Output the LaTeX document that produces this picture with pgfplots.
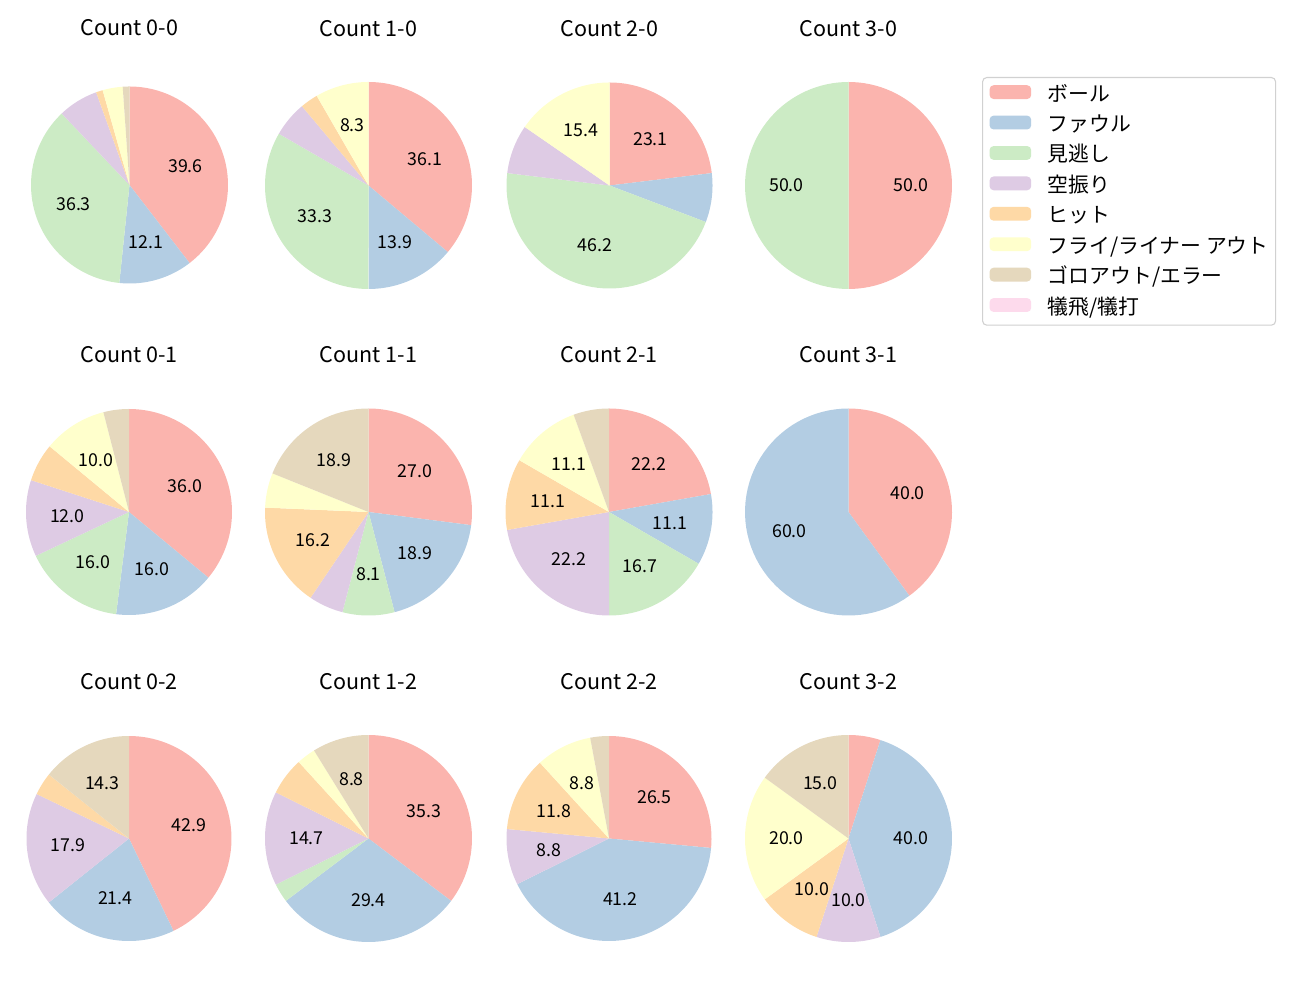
\documentclass[border=0pt]{standalone}
\usepackage{fontspec}
\setmainfont{Noto Sans CJK JP}
\usepackage{pgfplots}
\pgfplotsset{compat=1.18}
\definecolor{pc1}{HTML}{FBB4AE}
\definecolor{pc2}{HTML}{B3CDE3}
\definecolor{pc3}{HTML}{CCEBC5}
\definecolor{pc4}{HTML}{DECBE4}
\definecolor{pc5}{HTML}{FED9A6}
\definecolor{pc6}{HTML}{FFFFCC}
\definecolor{pc7}{HTML}{E5D8BD}
\definecolor{pc8}{HTML}{FDDAEC}
\newcommand\titlefont{\fontsize{15.5}{18}\selectfont}
\newcommand\labelfont{\fontsize{12.8}{15}\selectfont}
\newcommand\legendfont{\fontsize{15}{17}\selectfont}
\newcount\pieidx
% counts in legend order -> slices clockwise from 12 o'clock
\newcommand\buildpie[1]{%
  \gdef\pietotal{0}%
  \foreach \v in {#1}{\pgfmathsetmacro\tmp{\pietotal+\v}\xdef\pietotal{\tmp}}%
  \gdef\pieangle{90}%
  \gdef\piecmds{}%
  \global\pieidx=0
  \foreach \v in {#1}{%
    \global\advance\pieidx by 1
    \pgfmathsetmacro\pct{100*\v/\pietotal}%
    \pgfmathsetmacro\aend{\pieangle-360*\v/\pietotal}%
    \pgfmathsetmacro\amid{(\pieangle+\aend)/2}%
    \pgfmathsetmacro\lx{0.6*cos(\amid)}%
    \pgfmathsetmacro\ly{0.6*sin(\amid)}%
    \ifdim\v pt>0pt
      \xdef\piecmds{\unexpanded\expandafter{\piecmds}%
        \noexpand\addplot[draw=none, fill=pc\the\pieidx, domain=\aend:\pieangle, samples=60] ({cos(x)},{sin(x)}) -- (axis cs:0,0) -- cycle;}%
      \ifdim\pct pt>7.95pt
        \xdef\piecmds{\unexpanded\expandafter{\piecmds}%
          \noexpand\node[font=\noexpand\labelfont, inner sep=0pt] at (axis cs:\lx,\ly) {\noexpand\pgfmathprintnumber[assume math mode=true,fixed,fixed zerofill,precision=1]{\pct}};}%
      \fi
    \fi
    \xdef\pieangle{\aend}%
  }%
}
\pgfplotsset{pieaxis/.style={anchor=center, scale only axis, hide axis, clip=false,
  xmin=-1, xmax=1, ymin=-1, ymax=1}}
\newcommand\drawpie[5]{%
  \buildpie{#5}%
  \pgfmathsetmacro\pcx{#1*0.72}%
  \pgfmathsetmacro\pcy{(1000-#2)*0.72}%
  \pgfmathsetmacro\pw{2*#3*0.72}%
  \begin{axis}[pieaxis, at={(\pcx pt,\pcy pt)}, width=\pw pt, height=\pw pt]
  \piecmds
  \node[font=\titlefont, inner sep=0pt] at ([yshift=113pt]axis cs:0,0) {#4};
  \end{axis}}
\pgfplotsset{pielegend/.style={draw=none, fill=#1,
  legend image code/.code={\fill[##1] (0pt,-2.5pt) rectangle (30pt,7.5pt);}}}
\begin{document}
\begin{tikzpicture}
\useasboundingbox (0,0) rectangle (936pt,720pt);
\begin{axis}[at={(0,0)}, anchor=south west, scale only axis, width=936pt, height=720pt,
  xmin=0, xmax=1300, ymin=0, ymax=1000, hide axis,
  legend cell align=left,
  legend style={at={(0.7554,0.923)}, anchor=north west, draw=black!18, line width=0.8pt,
    rounded corners=3pt, fill=white, font=\legendfont, inner xsep=5pt, inner ysep=5.5pt,
    row sep=7.9pt,
    nodes={inner sep=0pt, text height=10.5pt, text depth=2.5pt},
    /tikz/every odd column/.append style={column sep=12pt},
    /tikz/every even column/.append style={column sep=9pt}}]
\addlegendimage{pielegend=pc1}\addlegendentry{ボール}
\addlegendimage{pielegend=pc2}\addlegendentry{ファウル}
\addlegendimage{pielegend=pc3}\addlegendentry{見逃し}
\addlegendimage{pielegend=pc4}\addlegendentry{空振り}
\addlegendimage{pielegend=pc5}\addlegendentry{ヒット}
\addlegendimage{pielegend=pc6}\addlegendentry{フライ/ライナー アウト\hspace{7pt}}
\addlegendimage{pielegend=pc7}\addlegendentry{ゴロアウト/エラー}
\addlegendimage{pielegend=pc8}\addlegendentry{犠飛/犠打}
\end{axis}
% order: ボール, ファウル, 見逃し, 空振り, ヒット, フライ/ライナー, ゴロ/エラー, 犠飛/犠打
\drawpie{129.5}{185}{98.5}{Count 0-0}{36,11,33,6,1,3,1,0}
\drawpie{368.5}{185.5}{103.5}{Count 1-0}{13,5,12,2,1,3,0,0}
\drawpie{609.5}{185.5}{103}{Count 2-0}{3,1,6,1,0,2,0,0}
\drawpie{848.5}{185.5}{103.5}{Count 3-0}{1,0,1,0,0,0,0,0}
\drawpie{129}{512}{103}{Count 0-1}{18,8,8,6,3,5,2,0}
\drawpie{368.5}{512}{103.5}{Count 1-1}{10,7,3,2,6,2,7,0}
\drawpie{609}{512}{103.5}{Count 2-1}{4,2,3,4,2,2,1,0}
\drawpie{848.5}{512}{103.5}{Count 3-1}{2,3,0,0,0,0,0,0}
\drawpie{129}{838.5}{102.5}{Count 0-2}{12,6,0,5,1,0,4,0}
\drawpie{368.5}{838.5}{103.5}{Count 1-2}{12,10,1,5,2,1,3,0}
\drawpie{609}{838.5}{102.5}{Count 2-2}{9,14,0,3,4,3,1,0}
\drawpie{848.5}{838.5}{103.5}{Count 3-2}{1,8,0,2,2,4,3,0}
\end{tikzpicture}
\end{document}
